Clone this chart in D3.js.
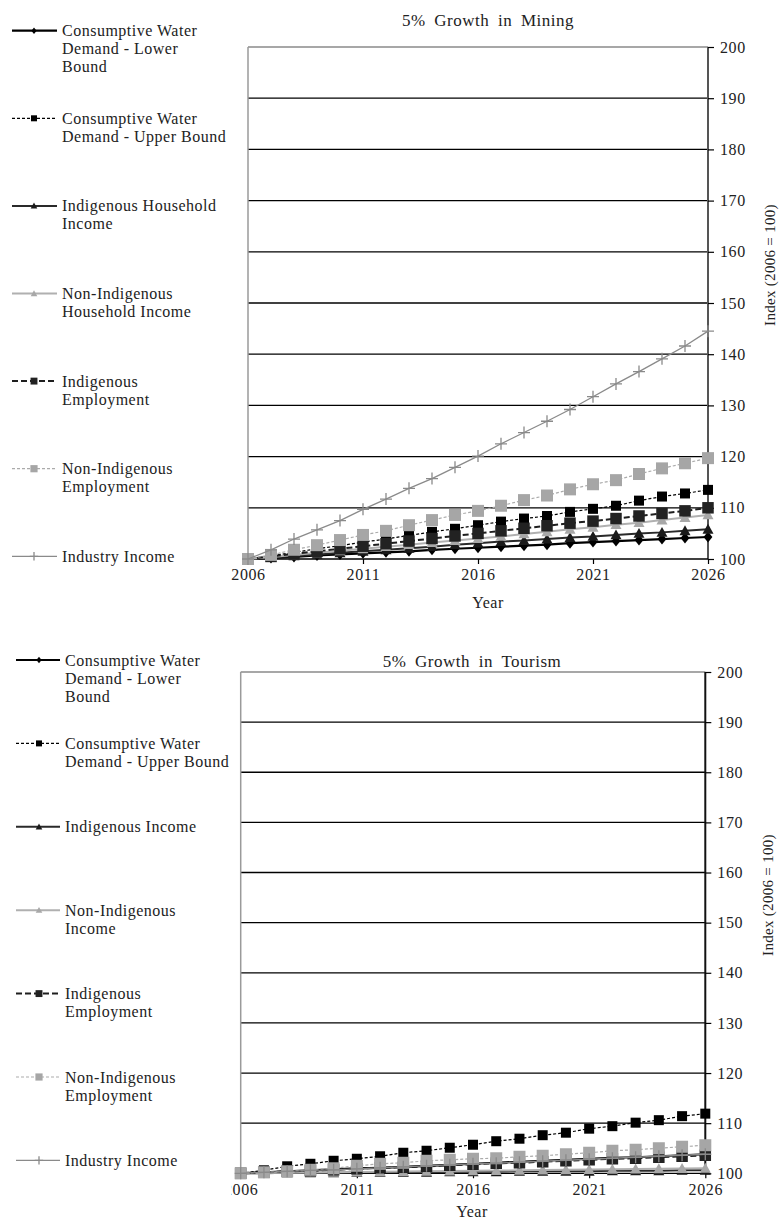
<!DOCTYPE html>
<html>
<head>
<meta charset="utf-8">
<script src="https://cdn.jsdelivr.net/npm/d3@7"></script>
<style>
  body { margin: 0; background: #fff; }
  svg { display: block; font-family: "Liberation Serif", "Times New Roman", serif; }
</style>
</head>
<body>
<svg id="chart" width="782" height="1220"></svg>
<script>
// ---- data ----
const years = [2006, 2007, 2008, 2009, 2010, 2011, 2012, 2013, 2014, 2015, 2016,
               2017, 2018, 2019, 2020, 2021, 2022, 2023, 2024, 2025, 2026];
const xTickYears = [2006, 2011, 2016, 2021, 2026];
const yTickValues = [100, 110, 120, 130, 140, 150, 160, 170, 180, 190, 200];

const miningTitle = "5% Growth in Mining";
const tourismTitle = "5% Growth in Tourism";
const xAxisTitle = "Year";
const yAxisTitle = "Index (2006 = 100)";

const miningLegend = [
  ["Consumptive Water", "Demand - Lower", "Bound"],
  ["Consumptive Water", "Demand - Upper Bound"],
  ["Indigenous Household", "Income"],
  ["Non-Indigenous", "Household Income"],
  ["Indigenous", "Employment"],
  ["Non-Indigenous", "Employment"],
  ["Industry Income"]
];
const tourismLegend = [
  ["Consumptive Water", "Demand - Lower", "Bound"],
  ["Consumptive Water", "Demand - Upper Bound"],
  ["Indigenous Income"],
  ["Non-Indigenous", "Income"],
  ["Indigenous", "Employment"],
  ["Non-Indigenous", "Employment"],
  ["Industry Income"]
];

// 5% growth in mining
const miningWaterLower   = [100, 100.2, 100.4, 100.7, 100.9, 101.1, 101.3, 101.5, 101.8, 102.0, 102.2, 102.4, 102.6, 102.8, 103.1, 103.3, 103.5, 103.7, 103.9, 104.1, 104.3];
const miningWaterUpper   = [100, 100.6, 101.3, 102.0, 102.6, 103.3, 103.9, 104.6, 105.3, 105.9, 106.6, 107.3, 107.9, 108.4, 109.2, 109.8, 110.4, 111.4, 112.2, 112.8, 113.5];
const miningIndigIncome  = [100, 100.3, 100.6, 100.9, 101.2, 101.5, 101.8, 102.1, 102.4, 102.8, 103.1, 103.4, 103.6, 103.9, 104.2, 104.4, 104.7, 105.0, 105.2, 105.5, 105.8];
const miningNonIndIncome = [100, 100.4, 100.8, 101.2, 101.6, 102.0, 102.4, 102.8, 103.2, 103.6, 104.0, 104.4, 104.9, 105.3, 105.8, 106.2, 106.7, 107.1, 107.6, 108.1, 108.6];
const miningIndigEmploy  = [100, 100.5, 101.0, 101.5, 102.0, 102.5, 103.0, 103.5, 104.0, 104.5, 105.0, 105.5, 106.0, 106.5, 107.0, 107.4, 107.9, 108.4, 108.9, 109.4, 110.0];
const miningNonIndEmploy = [100, 100.8, 101.8, 102.7, 103.7, 104.7, 105.5, 106.6, 107.6, 108.6, 109.4, 110.4, 111.5, 112.4, 113.6, 114.6, 115.4, 116.6, 117.7, 118.7, 119.7];
const miningIndustry     = [100, 101.8, 103.9, 105.7, 107.5, 109.7, 111.7, 113.8, 115.7, 117.9, 120.1, 122.5, 124.7, 126.9, 129.2, 131.7, 134.2, 136.6, 139.1, 141.6, 144.5];

// 5% growth in tourism
const tourismWaterLower   = [100, 100.2, 100.4, 100.6, 100.8, 101.0, 101.1, 101.3, 101.5, 101.7, 101.9, 102.1, 102.3, 102.5, 102.7, 102.9, 103.1, 103.2, 103.4, 103.6, 103.8];
const tourismWaterUpper   = [100, 100.6, 101.4, 101.9, 102.5, 102.9, 103.4, 104.1, 104.5, 105.1, 105.7, 106.4, 106.9, 107.6, 108.1, 108.9, 109.4, 110.1, 110.6, 111.4, 111.9];
const tourismIndigIncome  = [100, 100.0, 100.1, 100.1, 100.1, 100.2, 100.2, 100.2, 100.2, 100.3, 100.3, 100.3, 100.4, 100.4, 100.4, 100.4, 100.5, 100.5, 100.5, 100.6, 100.6];
const tourismNonIndIncome = [100, 100.05, 100.1, 100.15, 100.2, 100.25, 100.3, 100.35, 100.4, 100.45, 100.5, 100.55, 100.6, 100.65, 100.7, 100.75, 100.8, 100.85, 100.9, 100.95, 101.0];
const tourismIndigEmploy  = [100, 100.2, 100.4, 100.5, 100.7, 100.9, 101.1, 101.2, 101.4, 101.6, 101.8, 102.0, 102.1, 102.3, 102.5, 102.7, 102.9, 103.0, 103.2, 103.4, 103.6];
const tourismNonIndEmploy = [100, 100.2, 100.4, 100.7, 101.0, 101.5, 101.9, 102.1, 102.5, 102.7, 102.9, 103.0, 103.3, 103.5, 103.8, 104.1, 104.5, 104.7, 105.0, 105.3, 105.6];
const tourismIndustry     = [100, 100.2, 100.4, 100.6, 100.7, 100.9, 101.1, 101.3, 101.5, 101.7, 101.9, 102.0, 102.2, 102.4, 102.6, 102.8, 103.0, 103.2, 103.4, 103.6, 103.8];

// ---- series styling (same order in both panels) ----
const seriesStyles = [
  { stroke: "#000",    width: 2.2, dash: null,  shape: "diamond",  fill: "#000",    size: 11 },
  { stroke: "#000",    width: 1.2, dash: "3,2", shape: "square",   fill: "#000",    size: 10 },
  { stroke: "#2a2a2a", width: 2,   dash: null,  shape: "triangle", fill: "#1a1a1a", size: 11 },
  { stroke: "#b0b0b0", width: 2,   dash: null,  shape: "triangle", fill: "#a8a8a8", size: 11 },
  { stroke: "#1e1e1e", width: 2,   dash: "6,3", shape: "square",   fill: "#222",    size: 11.5 },
  { stroke: "#ababab", width: 1.2, dash: "3,2", shape: "square",   fill: "#a6a6a6", size: 12 },
  { stroke: "#8a8a8a", width: 1.3, dash: null,  shape: "plus",     fill: "none",    size: 12 }
];

const svg = d3.select("#chart");

function markerPath(shape, s) {
  const h = s / 2;
  if (shape === "square")   return `M${-h},${-h}H${h}V${h}H${-h}Z`;
  if (shape === "diamond")  return `M0,${-h}L${h * 0.8},0L0,${h}L${-h * 0.8},0Z`;
  if (shape === "triangle") return `M0,${-h}L${h},${h * 0.8}L${-h},${h * 0.8}Z`;
  return `M${-h},0H${h}M0,${-h}V${h}`; // plus
}

function drawMarker(g, style, x, y, scale) {
  const s = style.size * scale;
  const p = g.append("path")
    .attr("transform", `translate(${x},${y})`)
    .attr("d", markerPath(style.shape, s));
  if (style.shape === "plus") {
    p.attr("fill", "none").attr("stroke", style.stroke).attr("stroke-width", style.width);
  } else {
    p.attr("fill", style.fill);
  }
}

function drawPanel(cfg) {
  const g = svg.append("g");
  const x = d3.scaleLinear().domain([2006, 2026]).range([cfg.x0, cfg.x1]);
  const y = d3.scaleLinear().domain([100, 200]).range([cfg.yBottom, cfg.yTop]);

  // horizontal gridlines
  g.append("g").selectAll("line")
    .data(yTickValues.filter(v => v > 100))
    .join("line")
    .attr("x1", cfg.x0).attr("x2", cfg.x1)
    .attr("y1", d => y(d)).attr("y2", d => y(d))
    .attr("stroke", d => d === 200 ? "#8a8a8a" : "#000")
    .attr("stroke-width", 1.3);

  // left frame edge
  g.append("line")
    .attr("x1", cfg.x0).attr("x2", cfg.x0)
    .attr("y1", cfg.yTop).attr("y2", cfg.yBottom)
    .attr("stroke", "#9a9a9a").attr("stroke-width", 1.5);

  // right value axis
  const yAxis = d3.axisRight(y).tickValues(yTickValues).tickSize(6).tickPadding(6).tickFormat(d3.format("d"));
  const ya = g.append("g").attr("transform", `translate(${cfg.x1},0)`).call(yAxis);
  ya.select(".domain").attr("stroke", cfg.axisColor).attr("stroke-width", 2)
    .attr("d", `M0,${cfg.yTop}V${cfg.yBottom}`);
  ya.selectAll(".tick line").attr("stroke", "#000").attr("stroke-width", 1.2);
  ya.selectAll(".tick text")
    .attr("font-family", "'Liberation Serif', 'Times New Roman', serif")
    .attr("font-size", 16).attr("letter-spacing", 0.6).attr("fill", "#222");

  // bottom year axis (labels left of the clip edge are hidden)
  const clipId = "clip-" + cfg.id;
  svg.append("clipPath").attr("id", clipId).append("rect")
    .attr("x", cfg.labelClipX).attr("y", -20).attr("width", 800).attr("height", 100);
  const xAxis = d3.axisBottom(x).tickValues(xTickYears).tickSize(5).tickPadding(5).tickFormat(d3.format("d"));
  const xa = g.append("g").attr("transform", `translate(0,${cfg.yBottom})`).call(xAxis);
  xa.attr("clip-path", `url(#${clipId})`);
  xa.select(".domain").attr("stroke", "#000").attr("stroke-width", 1.3)
    .attr("d", `M${cfg.x0},0H${cfg.x1}`);
  xa.selectAll(".tick line").attr("stroke", "#000").attr("stroke-width", 1.2);
  xa.selectAll(".tick text")
    .attr("font-family", "'Liberation Serif', 'Times New Roman', serif")
    .attr("font-size", 16).attr("letter-spacing", 0.6).attr("fill", "#222");

  // series lines and markers
  cfg.series.forEach((vals, i) => {
    const st = seriesStyles[i];
    const line = d3.line().x((d, j) => x(years[j])).y(d => y(d));
    g.append("path")
      .datum(vals)
      .attr("d", line)
      .attr("fill", "none")
      .attr("stroke", st.stroke)
      .attr("stroke-width", st.width)
      .attr("stroke-dasharray", st.dash);
    const mg = g.append("g");
    vals.forEach((v, j) => drawMarker(mg, st, x(years[j]), y(v), 1));
  });

  // titles
  g.append("text")
    .attr("x", cfg.titleX).attr("y", cfg.titleY)
    .attr("text-anchor", "middle")
    .attr("font-size", 17).attr("letter-spacing", 0.5).attr("word-spacing", 4)
    .attr("fill", "#222")
    .text(cfg.title);
  g.append("text")
    .attr("x", cfg.titleX).attr("y", cfg.yearY)
    .attr("text-anchor", "middle")
    .attr("font-size", 16).attr("letter-spacing", 0.5)
    .attr("fill", "#222")
    .text(xAxisTitle);
  g.append("text")
    .attr("transform", `translate(${cfg.indexX},${cfg.indexY}) rotate(-90)`)
    .attr("text-anchor", "middle")
    .attr("font-size", 15).attr("letter-spacing", 0.3)
    .attr("fill", "#222")
    .text(yAxisTitle);

  // legend
  const lg = g.append("g");
  cfg.legend.forEach((lines, i) => {
    const st = seriesStyles[i];
    const cy = cfg.legY + i * cfg.legStep;
    lg.append("line")
      .attr("x1", cfg.legX0).attr("x2", cfg.legX1)
      .attr("y1", cy).attr("y2", cy)
      .attr("stroke", st.stroke)
      .attr("stroke-width", st.width)
      .attr("stroke-dasharray", st.dash);
    drawMarker(lg, st, cfg.legMark, cy, st.shape === "plus" ? 0.7 : 0.6);
    const t = lg.append("text")
      .attr("x", cfg.legTextX).attr("y", cy + 5.5)
      .attr("font-size", 16).attr("letter-spacing", 0.5)
      .attr("fill", "#222");
    lines.forEach((ln, k) => {
      t.append("tspan").attr("x", cfg.legTextX).attr("dy", k === 0 ? 0 : 18).text(ln);
    });
  });
}

drawPanel({
  id: "mining",
  title: miningTitle,
  x0: 248, x1: 708, yTop: 47, yBottom: 559,
  axisColor: "#555",
  labelClipX: 0,
  titleX: 488, titleY: 26, yearY: 608,
  indexX: 775, indexY: 265,
  legend: miningLegend,
  legX0: 12, legX1: 57, legMark: 34, legTextX: 62, legY: 30.7, legStep: 87.6,
  series: [miningWaterLower, miningWaterUpper, miningIndigIncome, miningNonIndIncome,
           miningIndigEmploy, miningNonIndEmploy, miningIndustry]
});

drawPanel({
  id: "tourism",
  title: tourismTitle,
  x0: 240.7, x1: 705.3, yTop: 672, yBottom: 1173.3,
  axisColor: "#111",
  labelClipX: 231,
  titleX: 472, titleY: 667, yearY: 1217,
  indexX: 773, indexY: 895,
  legend: tourismLegend,
  legX0: 16, legX1: 60, legMark: 39, legTextX: 65, legY: 660, legStep: 83.4,
  series: [tourismWaterLower, tourismWaterUpper, tourismIndigIncome, tourismNonIndIncome,
           tourismIndigEmploy, tourismNonIndEmploy, tourismIndustry]
});
</script>
</body>
</html>
